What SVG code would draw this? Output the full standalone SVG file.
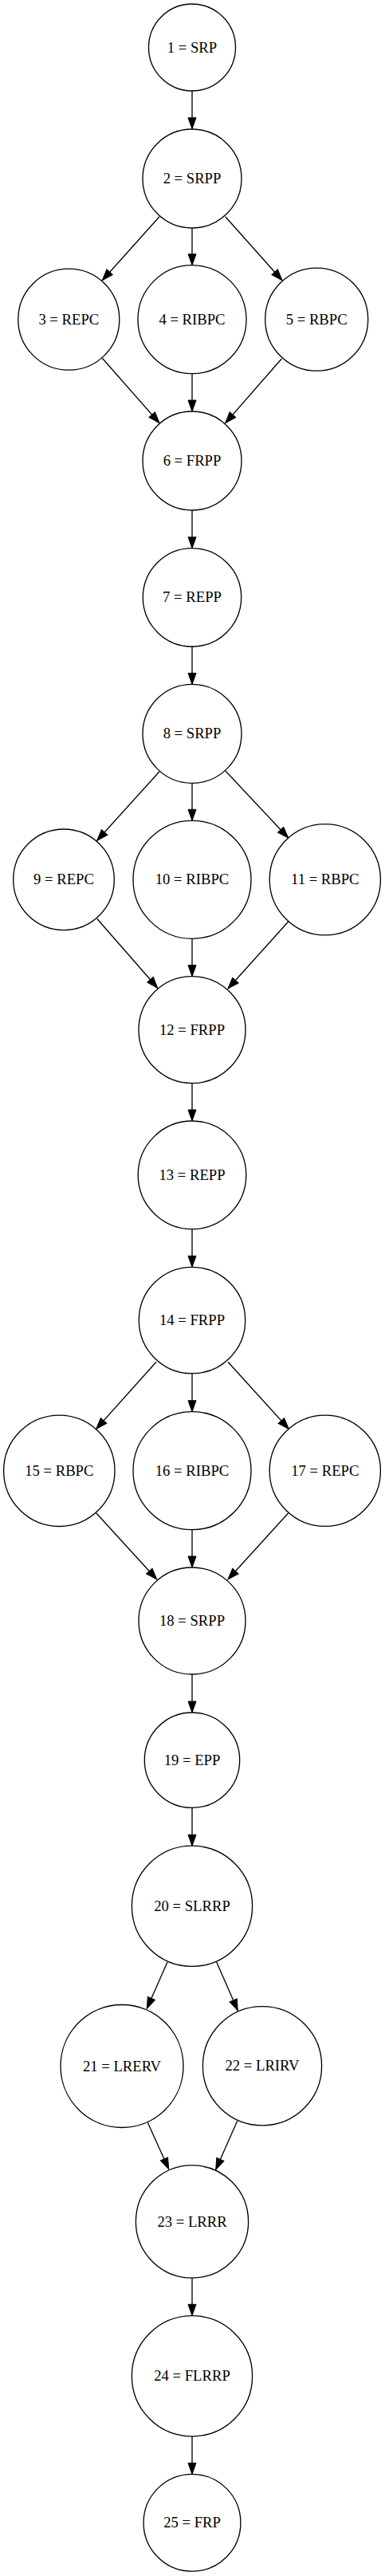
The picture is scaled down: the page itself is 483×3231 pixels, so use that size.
<svg xmlns="http://www.w3.org/2000/svg" width="483" height="3231" viewBox="0 0 483 3231">
<style>
.n circle{fill:#fff;stroke:#000;stroke-width:1.33}
.n text{font-family:"Liberation Serif","Times New Roman",serif;font-size:18.67px;text-anchor:middle;fill:#000}
.e line{stroke:#000;stroke-width:1.33;fill:none;marker-end:url(#ah)}
</style>
<defs>
<marker id="ah" markerUnits="userSpaceOnUse" viewBox="-1 -6 16 12" markerWidth="16" markerHeight="12" refX="14" refY="0" orient="auto">
<path d="M0,-5 L14,0 L0,5 z" fill="#000" stroke="#000" stroke-width="1"/>
</marker>
</defs>
<rect width="483" height="3231" fill="#fff"/>
<g id="edges" class="e">
<line x1="241" y1="114" x2="241" y2="161.7"/>
<line x1="200" y1="271.7" x2="128.3" y2="351.7"/>
<line x1="241" y1="285.7" x2="241" y2="332.7"/>
<line x1="282.7" y1="271.7" x2="354" y2="351.7"/>
<line x1="128.3" y1="449.3" x2="200" y2="530.7"/>
<line x1="241" y1="468.7" x2="241" y2="516"/>
<line x1="353.3" y1="450" x2="282.7" y2="530.7"/>
<line x1="241" y1="640" x2="241" y2="687.7"/>
<line x1="241" y1="811" x2="241" y2="858.3"/>
<line x1="200" y1="967.7" x2="121.7" y2="1054.3"/>
<line x1="241" y1="982.3" x2="241" y2="1029.3"/>
<line x1="282.7" y1="966.7" x2="361.7" y2="1051"/>
<line x1="121.7" y1="1152.3" x2="197.7" y2="1239.3"/>
<line x1="241" y1="1177.3" x2="241" y2="1224.7"/>
<line x1="361.7" y1="1156" x2="286" y2="1240"/>
<line x1="241" y1="1358.7" x2="241" y2="1406"/>
<line x1="241" y1="1541.7" x2="241" y2="1589.3"/>
<line x1="196" y1="1708.3" x2="120.7" y2="1792.3"/>
<line x1="241" y1="1722.7" x2="241" y2="1770.7"/>
<line x1="286" y1="1708.3" x2="362.3" y2="1792.3"/>
<line x1="120.7" y1="1897.7" x2="196.7" y2="1981"/>
<line x1="241" y1="1918.7" x2="241" y2="1966"/>
<line x1="361.7" y1="1897.7" x2="286" y2="1981"/>
<line x1="241" y1="2100" x2="241" y2="2148"/>
<line x1="241" y1="2267.3" x2="241" y2="2315.3"/>
<line x1="210" y1="2461" x2="184.3" y2="2519.3"/>
<line x1="271.7" y1="2461" x2="298.3" y2="2521.7"/>
<line x1="185.3" y1="2662.3" x2="211.7" y2="2720.7"/>
<line x1="297.7" y1="2660.3" x2="270.7" y2="2721.3"/>
<line x1="241" y1="2857" x2="241" y2="2904.3"/>
<line x1="241" y1="3055.7" x2="241" y2="3103.3"/>
</g>
<g id="node1" class="n"><circle cx="241" cy="59.5" r="54.5"/><text x="241" y="65.5">1 = SRP</text></g>
<g id="node2" class="n"><circle cx="241" cy="224" r="62"/><text x="241" y="230">2 = SRPP</text></g>
<g id="node3" class="n"><circle cx="86.3" cy="400.7" r="63.5"/><text x="86.3" y="406.7">3 = REPC</text></g>
<g id="node4" class="n"><circle cx="241" cy="400.7" r="68"/><text x="241" y="406.7">4 = RIBPC</text></g>
<g id="node5" class="n"><circle cx="397.2" cy="400.7" r="64.5"/><text x="397.2" y="406.7">5 = RBPC</text></g>
<g id="node6" class="n"><circle cx="241" cy="578" r="62"/><text x="241" y="584">6 = FRPP</text></g>
<g id="node7" class="n"><circle cx="241" cy="749.3" r="61.7"/><text x="241" y="755.3">7 = REPP</text></g>
<g id="node8" class="n"><circle cx="241" cy="920.3" r="62"/><text x="241" y="926.3">8 = SRPP</text></g>
<g id="node9" class="n"><circle cx="80" cy="1103.3" r="63.3"/><text x="80" y="1109.3">9 = REPC</text></g>
<g id="node10" class="n"><circle cx="241" cy="1103.3" r="74"/><text x="241" y="1109.3">10 = RIBPC</text></g>
<g id="node11" class="n"><circle cx="407.8" cy="1103.3" r="69.6"/><text x="407.8" y="1109.3">11 = RBPC</text></g>
<g id="node12" class="n"><circle cx="241" cy="1291.7" r="67"/><text x="241" y="1297.7">12 = FRPP</text></g>
<g id="node13" class="n"><circle cx="241" cy="1473.8" r="67.8"/><text x="241" y="1479.8">13 = REPP</text></g>
<g id="node14" class="n"><circle cx="241" cy="1656" r="66.7"/><text x="241" y="1662">14 = FRPP</text></g>
<g id="node15" class="n"><circle cx="74.3" cy="1844.8" r="69.7"/><text x="74.3" y="1850.8">15 = RBPC</text></g>
<g id="node16" class="n"><circle cx="241" cy="1844.7" r="74"/><text x="241" y="1850.7">16 = RIBPC</text></g>
<g id="node17" class="n"><circle cx="407.8" cy="1844.8" r="69.6"/><text x="407.8" y="1850.8">17 = REPC</text></g>
<g id="node18" class="n"><circle cx="241" cy="2033" r="67"/><text x="241" y="2039">18 = SRPP</text></g>
<g id="node19" class="n"><circle cx="241" cy="2207.7" r="59.7"/><text x="241" y="2213.7">19 = EPP</text></g>
<g id="node20" class="n"><circle cx="241" cy="2390.8" r="75.6"/><text x="241" y="2396.8">20 = SLRRP</text></g>
<g id="node21" class="n"><circle cx="153" cy="2591.5" r="77"/><text x="153" y="2597.5">21 = LRERV</text></g>
<g id="node22" class="n"><circle cx="329" cy="2591.2" r="74.6"/><text x="329" y="2597.2">22 = LRIRV</text></g>
<g id="node23" class="n"><circle cx="241" cy="2786.5" r="70.6"/><text x="241" y="2792.5">23 = LRRR</text></g>
<g id="node24" class="n"><circle cx="241" cy="2980.2" r="75.6"/><text x="241" y="2986.2">24 = FLRRP</text></g>
<g id="node25" class="n"><circle cx="241" cy="3164.2" r="60.9"/><text x="241" y="3170.2">25 = FRP</text></g>
</svg>
